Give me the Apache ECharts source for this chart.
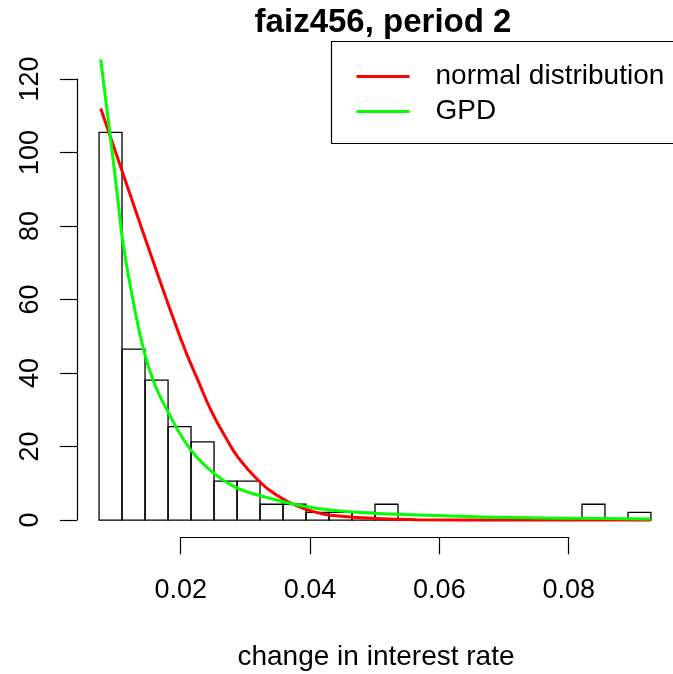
<!DOCTYPE html>
<html>
<head>
<meta charset="utf-8">
<script src="https://cdn.jsdelivr.net/npm/echarts@6/dist/echarts.min.js"></script>
<style>
html,body{margin:0;padding:0;background:#fff;}
#chart{width:673px;height:674px;}
</style>
</head>
<body>
<div id="chart"></div>
<script>
// Histogram bin edges (change in interest rate) and bar densities
const binEdges = [0.00741, 0.01100, 0.01460, 0.01820, 0.02179, 0.02539, 0.02899, 0.03258,
  0.03618, 0.03977, 0.04337, 0.04697, 0.05056, 0.05416, 0.05775, 0.06135, 0.06495,
  0.06854, 0.07214, 0.07573, 0.07933, 0.08293, 0.08652, 0.09012, 0.09371];
const densities = [105.5, 46.5, 38.1, 25.4, 21.3, 10.6, 10.6, 4.3, 4.3, 2.1, 2.1, 2.1, 4.3,
  0, 0, 0, 0, 0, 0, 0, 0, 4.3, 0, 2.1];

// Fitted normal distribution density curve
const normalX = [0.00767, 0.01138, 0.01525, 0.02020, 0.02298, 0.02499, 0.02731, 0.02917,
  0.03226, 0.03535, 0.03845, 0.04200, 0.04355, 0.05082, 0.05700, 0.06938, 0.09366];
const normalY = [112.0, 93.1, 73.5, 49.3, 37.6, 29.6, 22.2, 17.0, 10.9, 6.6, 3.8, 1.8, 1.3,
  0.4, 0.1, 0.0, 0.0];

// Fitted GPD density curve
const gpdX = [0.00767, 0.00937, 0.01030, 0.01123, 0.01293, 0.01448, 0.01602, 0.01788,
  0.02066, 0.02298, 0.02530, 0.02809, 0.03071, 0.03334, 0.03845, 0.04355, 0.05082,
  0.05390, 0.06628, 0.08175, 0.09366];
const gpdY = [125.4, 101.5, 88.0, 74.5, 58.0, 45.7, 37.3, 30.5, 21.8, 16.6, 12.8, 9.5,
  7.6, 6.3, 4.1, 2.7, 1.8, 1.6, 0.9, 0.46, 0.27];

// Axis ticks
const xTicks = [0.02, 0.04, 0.06, 0.08];
const yTicks = [0, 20, 40, 60, 80, 100, 120];

const titleText = 'faiz456, period 2';
const xLabel = 'change in interest rate';
const seriesNames = ['normal distribution', 'GPD'];

const FONT = "'Liberation Sans', Arial, Helvetica, sans-serif";

const bins = densities.map((d, i) => [binEdges[i], binEdges[i + 1], d]);
const normalData = normalX.map((x, i) => [x, normalY[i]]);
const gpdData = gpdX.map((x, i) => [x, gpdY[i]]);

const chart = echarts.init(document.getElementById('chart'), null, {renderer: 'canvas'});

const option = {
  backgroundColor: '#fff',
  animation: false,
  title: {
    text: titleText,
    left: 378,
    textAlign: 'center',
    top: 1,
    textStyle: {fontFamily: FONT, fontSize: 33, fontWeight: 'bold', color: '#000'}
  },
  legend: {
    data: seriesNames,
    orient: 'vertical',
    left: 331.5,
    top: 41.5,
    padding: [21, 16, 18, 25],
    itemGap: 7,
    itemWidth: 53,
    itemHeight: 3,
    icon: 'rect',
    borderColor: '#000',
    borderWidth: 1.2,
    borderRadius: 0,
    backgroundColor: '#fff',
    textStyle: {fontFamily: FONT, fontSize: 28, color: '#000', padding: [0, 0, 0, 21]}
  },
  grid: [
    {left: 77, top: 41.7, width: 602.7, height: 496.7, containLabel: false},
    {left: 77, top: 79, width: 10, height: 441, containLabel: false},
    {left: 180.7, top: 527.3, width: 388, height: 10, containLabel: false}
  ],
  xAxis: [
    {gridIndex: 0, type: 'value', min: 0.00396, max: 0.09716, show: false},
    {gridIndex: 1, type: 'value', min: 0, max: 1, show: false},
    {
      gridIndex: 2, type: 'value', position: 'bottom',
      min: xTicks[0], max: xTicks[xTicks.length - 1], interval: 0.02,
      axisLine: {show: true, onZero: false, lineStyle: {color: '#000', width: 1.2}},
      axisTick: {show: true, length: 17, lineStyle: {color: '#000', width: 1.2}},
      splitLine: {show: false},
      axisLabel: {
        show: true, margin: 40, color: '#000', fontFamily: FONT, fontSize: 27,
        formatter: v => v.toFixed(2)
      }
    }
  ],
  yAxis: [
    {gridIndex: 0, type: 'value', min: -5.0, max: 130.2, show: false},
    {
      gridIndex: 1, type: 'value', position: 'left',
      min: yTicks[0], max: yTicks[yTicks.length - 1], interval: 20,
      axisLine: {show: true, onZero: false, lineStyle: {color: '#000', width: 1.2}},
      axisTick: {show: true, length: 17, lineStyle: {color: '#000', width: 1.2}},
      splitLine: {show: false},
      axisLabel: {show: true, rotate: 90, margin: 33, color: '#000', fontFamily: FONT, fontSize: 27}
    },
    {gridIndex: 2, type: 'value', min: 0, max: 1, show: false}
  ],
  graphic: [
    {
      type: 'text',
      x: 376, y: 657,
      style: {
        text: xLabel, fill: '#000', font: '28px ' + FONT,
        textAlign: 'center', textVerticalAlign: 'middle'
      }
    }
  ],
  series: [
    {
      type: 'custom',
      xAxisIndex: 0, yAxisIndex: 0,
      data: bins,
      silent: true,
      renderItem: function (params, api) {
        const p0 = api.coord([api.value(0), 0]);
        const p1 = api.coord([api.value(1), api.value(2)]);
        return {
          type: 'rect',
          shape: {x: p0[0], y: p1[1], width: p1[0] - p0[0], height: p0[1] - p1[1]},
          style: {fill: 'none', stroke: '#000', lineWidth: 1.3}
        };
      },
      encode: {x: [0, 1], y: 2}
    },
    {
      name: seriesNames[0], type: 'line', xAxisIndex: 0, yAxisIndex: 0,
      data: normalData, smooth: 0.5, symbol: 'none', showSymbol: false,
      lineStyle: {color: '#ff0000', width: 3}, itemStyle: {color: '#ff0000'}
    },
    {
      name: seriesNames[1], type: 'line', xAxisIndex: 0, yAxisIndex: 0,
      data: gpdData, smooth: 0.5, symbol: 'none', showSymbol: false,
      lineStyle: {color: '#00ff00', width: 3}, itemStyle: {color: '#00ff00'}
    }
  ]
};

chart.setOption(option);
</script>
</body>
</html>
